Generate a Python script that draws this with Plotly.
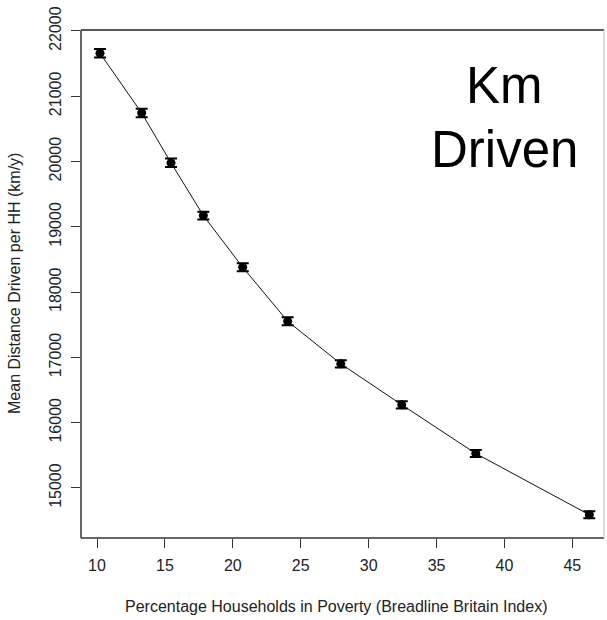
import plotly.graph_objects as go

poverty_pct = [10.22, 13.29, 15.45, 17.83, 20.73, 24.04, 27.95, 32.44, 37.89, 46.25]
mean_km = [21659, 20744, 19980, 19173, 18381, 17554, 16902, 16274, 15528, 14590]
err_km = [65, 65, 65, 60, 60, 60, 55, 55, 55, 55]

x_ticks = [10, 15, 20, 25, 30, 35, 40, 45]
y_ticks = [15000, 16000, 17000, 18000, 19000, 20000, 21000, 22000]

FONT = "Liberation Sans, Arial, sans-serif"
TXT = "#222222"

fig = go.Figure()
fig.add_trace(go.Scatter(
    x=poverty_pct, y=mean_km, mode="lines+markers",
    line=dict(color="#111111", width=1),
    marker=dict(color="#000000", size=9),
    error_y=dict(type="data", array=err_km, visible=True, color="#000000",
                 thickness=2, width=6),
    showlegend=False, cliponaxis=False,
))

fig.update_layout(
    width=607, height=620,
    margin=dict(l=81, r=3, t=30, b=82),
    paper_bgcolor="white", plot_bgcolor="white",
    font=dict(family=FONT, size=16, color=TXT),
    xaxis=dict(range=[8.822, 47.33], tickvals=x_ticks, ticktext=[str(v) for v in x_ticks],
               showgrid=False, zeroline=False, showline=False,
               ticks="outside", ticklen=9, tickwidth=1, tickcolor="#333333",
               tickfont=dict(size=16, color=TXT), ticklabelstandoff=4),
    yaxis=dict(range=[14234, 22015], tickvals=y_ticks, ticktext=[str(v) for v in y_ticks],
               showgrid=False, zeroline=False, showline=False,
               ticks="outside", ticklen=9, tickwidth=1, tickcolor="#333333",
               tickangle=-90, tickfont=dict(size=16, color=TXT), ticklabelstandoff=4),
    shapes=[
        dict(type="line", xref="paper", yref="paper", x0=0, x1=1, y0=1, y1=1,
             line=dict(color="#222222", width=1.5)),
        dict(type="line", xref="paper", yref="paper", x0=0, x1=0, y0=0, y1=1,
             line=dict(color="#333333", width=1.5)),
        dict(type="line", xref="paper", yref="paper", x0=0, x1=1, y0=0, y1=0,
             line=dict(color="#333333", width=1.5)),
        dict(type="line", xref="paper", yref="paper", x0=1, x1=1, y0=0, y1=1,
             line=dict(color="#bbbbbb", width=1)),
    ],
    annotations=[
        dict(text="Percentage Households in Poverty (Breadline Britain Index)",
             xref="paper", yref="paper", x=0.488, y=-0.1339, showarrow=False,
             xanchor="center", yanchor="middle", font=dict(size=16, color=TXT)),
        dict(text="Mean Distance Driven per HH (km/y)",
             xref="paper", yref="paper", x=-0.1262, y=0.502, showarrow=False,
             textangle=-90, xanchor="center", yanchor="middle",
             font=dict(size=16, color=TXT)),
        dict(text="Km", xref="paper", yref="paper", x=0.8107, y=0.8917,
             showarrow=False, xanchor="center", yanchor="middle",
             font=dict(size=51, color="#000000")),
        dict(text="Driven", xref="paper", yref="paper", x=0.8107, y=0.7657,
             showarrow=False, xanchor="center", yanchor="middle",
             font=dict(size=51, color="#000000")),
    ],
)

fig.write_html("out.html")
